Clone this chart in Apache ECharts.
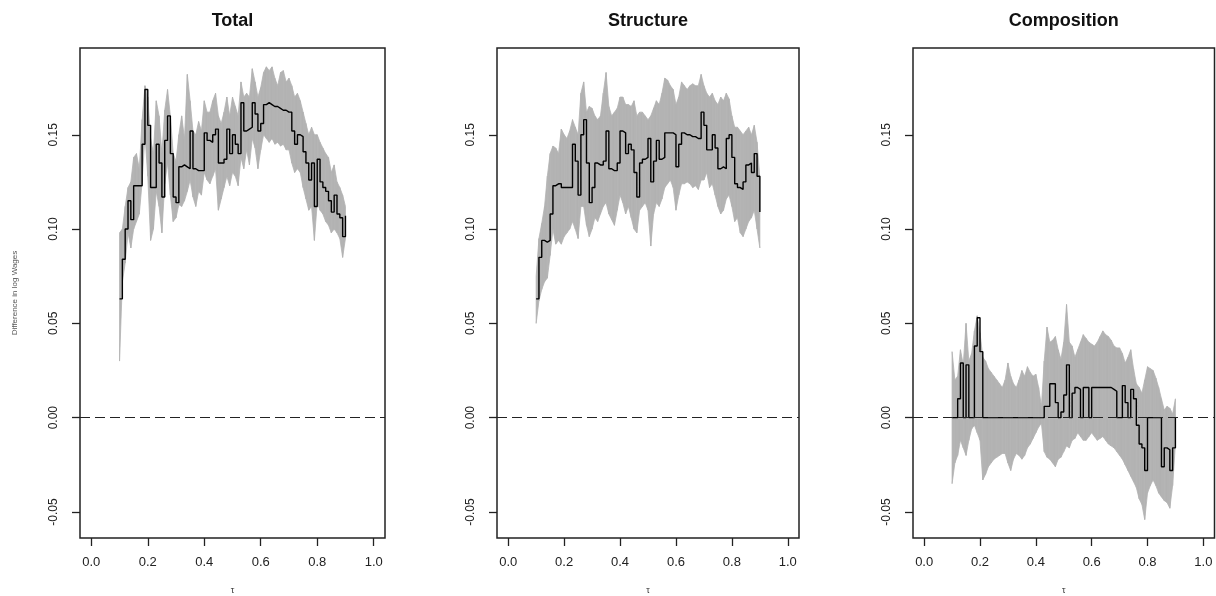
<!DOCTYPE html>
<html><head><meta charset="utf-8">
<script src="https://cdn.jsdelivr.net/npm/echarts@6/dist/echarts.min.js"></script>
<style>html,body{margin:0;padding:0;background:#fff}#c{width:1216px;height:596px}</style>
</head><body><div id="c"></div>
<script>
const TAU = [0.10,0.11,0.12,0.13,0.14,0.15,0.16,0.17,0.18,0.19,
0.20,0.21,0.22,0.23,0.24,0.25,0.26,0.27,0.28,0.29,
0.30,0.31,0.32,0.33,0.34,0.35,0.36,0.37,0.38,0.39,
0.40,0.41,0.42,0.43,0.44,0.45,0.46,0.47,0.48,0.49,
0.50,0.51,0.52,0.53,0.54,0.55,0.56,0.57,0.58,0.59,
0.60,0.61,0.62,0.63,0.64,0.65,0.66,0.67,0.68,0.69,
0.70,0.71,0.72,0.73,0.74,0.75,0.76,0.77,0.78,0.79,
0.80,0.81,0.82,0.83,0.84,0.85,0.86,0.87,0.88,0.89,
0.90];

const TOTAL_MID = [0.063,0.084,0.100,0.115,0.105,0.123,0.123,0.123,0.145,0.174,
0.155,0.122,0.122,0.145,0.135,0.117,0.147,0.160,0.140,0.117,
0.114,0.133,0.134,0.133,0.132,0.152,0.132,0.131,0.131,0.131,
0.151,0.147,0.146,0.150,0.153,0.135,0.135,0.137,0.153,0.140,
0.150,0.145,0.140,0.167,0.152,0.153,0.154,0.167,0.161,0.152,
0.156,0.166,0.167,0.166,0.165,0.165,0.164,0.163,0.163,0.162,
0.162,0.152,0.145,0.150,0.149,0.141,0.135,0.126,0.135,0.112,
0.137,0.125,0.122,0.120,0.115,0.109,0.118,0.108,0.106,0.096,
0.107];
const TOTAL_HI = [0.098,0.100,0.112,0.122,0.125,0.138,0.140,0.132,0.158,0.176,
0.170,0.148,0.140,0.168,0.160,0.140,0.163,0.174,0.160,0.140,
0.136,0.150,0.160,0.148,0.182,0.168,0.152,0.150,0.157,0.152,
0.168,0.162,0.162,0.168,0.172,0.160,0.156,0.162,0.170,0.160,
0.170,0.165,0.160,0.178,0.170,0.172,0.170,0.185,0.178,0.170,
0.175,0.183,0.186,0.184,0.186,0.180,0.176,0.183,0.184,0.178,
0.180,0.176,0.170,0.172,0.168,0.162,0.156,0.150,0.154,0.150,
0.150,0.146,0.143,0.140,0.138,0.130,0.134,0.125,0.122,0.118,
0.112];
const TOTAL_LO = [0.030,0.072,0.082,0.098,0.090,0.100,0.104,0.108,0.125,0.150,
0.128,0.094,0.100,0.120,0.112,0.098,0.124,0.135,0.118,0.104,
0.106,0.113,0.112,0.115,0.120,0.126,0.117,0.112,0.120,0.118,
0.130,0.126,0.124,0.128,0.132,0.110,0.116,0.122,0.128,0.123,
0.130,0.128,0.123,0.138,0.132,0.142,0.134,0.148,0.143,0.132,
0.142,0.150,0.148,0.146,0.148,0.145,0.146,0.144,0.145,0.142,
0.142,0.135,0.130,0.132,0.130,0.122,0.116,0.110,0.112,0.094,
0.114,0.110,0.108,0.104,0.102,0.098,0.100,0.098,0.095,0.085,
0.095];

const STRUCT_MID = [0.063,0.085,0.094,0.093,0.094,0.108,0.123,0.124,0.124,0.122,
0.122,0.122,0.122,0.145,0.136,0.118,0.150,0.158,0.135,0.114,
0.122,0.135,0.134,0.134,0.136,0.152,0.132,0.131,0.131,0.135,
0.152,0.151,0.140,0.145,0.142,0.130,0.117,0.135,0.137,0.138,
0.148,0.125,0.136,0.147,0.137,0.138,0.151,0.151,0.151,0.150,
0.133,0.145,0.151,0.150,0.150,0.149,0.149,0.148,0.148,0.162,
0.155,0.142,0.142,0.150,0.143,0.132,0.133,0.132,0.148,0.150,
0.138,0.124,0.122,0.121,0.125,0.134,0.135,0.130,0.140,0.128,
0.109];
const STRUCT_HI = [0.075,0.095,0.103,0.112,0.128,0.140,0.144,0.143,0.140,0.153,
0.150,0.148,0.152,0.158,0.154,0.150,0.172,0.178,0.162,0.165,
0.164,0.160,0.158,0.160,0.172,0.183,0.165,0.160,0.162,0.164,
0.170,0.170,0.166,0.166,0.165,0.168,0.160,0.162,0.162,0.160,
0.158,0.160,0.164,0.168,0.166,0.172,0.180,0.179,0.176,0.174,
0.166,0.170,0.178,0.176,0.174,0.176,0.177,0.176,0.176,0.182,
0.176,0.172,0.170,0.172,0.168,0.166,0.170,0.168,0.172,0.169,
0.160,0.154,0.154,0.152,0.150,0.152,0.154,0.150,0.155,0.146,
0.127];
const STRUCT_LO = [0.050,0.062,0.068,0.072,0.074,0.086,0.100,0.092,0.094,0.092,
0.096,0.098,0.100,0.104,0.100,0.095,0.112,0.112,0.102,0.096,
0.100,0.106,0.104,0.108,0.112,0.114,0.108,0.105,0.102,0.110,
0.118,0.114,0.108,0.112,0.106,0.100,0.098,0.110,0.112,0.114,
0.110,0.091,0.108,0.114,0.112,0.116,0.122,0.124,0.126,0.122,
0.110,0.118,0.124,0.124,0.125,0.124,0.122,0.123,0.121,0.126,
0.126,0.130,0.122,0.124,0.118,0.112,0.108,0.110,0.116,0.118,
0.112,0.104,0.106,0.098,0.096,0.100,0.104,0.106,0.110,0.100,
0.090];

const COMP_MID = [0.000,0.000,0.010,0.029,0.000,0.028,0.000,0.000,0.038,0.053,
0.035,0.000,0.000,0.000,0.000,0.000,0.000,0.000,0.000,0.000,
0.000,0.000,0.000,0.000,0.000,0.000,0.000,0.000,0.000,0.000,
0.000,0.000,0.000,0.006,0.006,0.018,0.018,0.008,0.000,0.003,
0.012,0.028,0.000,0.013,0.016,0.015,0.000,0.016,0.016,0.000,
0.016,0.016,0.016,0.016,0.016,0.016,0.016,0.015,0.014,0.000,
0.000,0.017,0.008,0.000,0.015,0.010,-0.004,-0.014,-0.016,-0.028,
0.000,0.000,0.000,0.000,0.000,-0.026,-0.016,-0.017,-0.028,-0.016,
0.000];
const COMP_HI = [0.035,0.020,0.022,0.036,0.028,0.050,0.030,0.034,0.046,0.054,
0.045,0.032,0.030,0.026,0.024,0.022,0.020,0.018,0.016,0.020,
0.029,0.022,0.018,0.016,0.020,0.025,0.022,0.027,0.024,0.022,
0.023,0.016,0.006,0.030,0.048,0.040,0.041,0.043,0.036,0.031,
0.040,0.060,0.040,0.038,0.032,0.036,0.040,0.044,0.042,0.040,
0.039,0.038,0.040,0.043,0.046,0.044,0.043,0.041,0.038,0.037,
0.037,0.034,0.029,0.032,0.036,0.026,0.018,0.016,0.013,0.020,
0.027,0.026,0.025,0.021,0.016,0.010,0.004,0.006,0.005,0.002,
0.010];
const COMP_LO = [-0.035,-0.024,-0.020,-0.012,-0.016,-0.020,-0.012,-0.006,-0.004,-0.008,
-0.012,-0.033,-0.030,-0.026,-0.024,-0.022,-0.021,-0.020,-0.019,-0.019,
-0.024,-0.028,-0.022,-0.019,-0.020,-0.022,-0.020,-0.016,-0.014,-0.011,
-0.008,-0.005,-0.003,-0.018,-0.021,-0.022,-0.024,-0.026,-0.022,-0.021,
-0.018,-0.015,-0.016,-0.012,-0.011,-0.008,-0.010,-0.012,-0.012,-0.010,
-0.008,-0.010,-0.012,-0.011,-0.010,-0.012,-0.014,-0.015,-0.016,-0.018,
-0.020,-0.022,-0.025,-0.028,-0.031,-0.034,-0.037,-0.043,-0.046,-0.054,
-0.040,-0.036,-0.033,-0.036,-0.040,-0.042,-0.044,-0.045,-0.048,-0.036,
-0.014];

const PANEL_TITLES = ['Total', 'Structure', 'Composition'];
const X_TICKS = [0, 0.2, 0.4, 0.6, 0.8, 1.0];
const Y_TICKS = [-0.05, 0, 0.05, 0.10, 0.15];
const Y_LABEL = 'Difference in log Wages';
const X_LABEL = 'τ';

const FONT = "'Liberation Sans', Arial, sans-serif";
const BAND_COLOR = '#b3b3b3';
const panels = [
  {mid: TOTAL_MID, lo: TOTAL_LO, hi: TOTAL_HI},
  {mid: STRUCT_MID, lo: STRUCT_LO, hi: STRUCT_HI},
  {mid: COMP_MID, lo: COMP_LO, hi: COMP_HI}
];
const gridBoxes = [
  {left: 80, width: 305},
  {left: 497, width: 302},
  {left: 913, width: 301.5}
];
const TOP = 48, HEIGHT = 490;

// band segments: quad between consecutive quantiles
function bandSegments(p) {
  const out = [];
  for (let k = 0; k < TAU.length - 1; k++) {
    out.push([TAU[k], p.lo[k], p.hi[k], TAU[k + 1], p.lo[k + 1], p.hi[k + 1]]);
  }
  return out;
}
function renderBand(params, api) {
  const a = api.coord([api.value(0), api.value(1)]);
  const b = api.coord([api.value(0), api.value(2)]);
  const c = api.coord([api.value(3), api.value(5)]);
  const d = api.coord([api.value(3), api.value(4)]);
  return {type: 'polygon', shape: {points: [a, b, c, d]},
    style: {fill: BAND_COLOR, stroke: BAND_COLOR, lineWidth: 0.8}};
}

const grid = [], xAxis = [], yAxis = [], series = [], graphic = [];
gridBoxes.forEach((g, i) => {
  grid.push({left: g.left, top: TOP, width: g.width, height: HEIGHT, show: true,
    outerBoundsMode: 'none', containLabel: false,
    borderColor: '#222', borderWidth: 1.5, backgroundColor: 'transparent'});
  graphic.push({type: 'text', x: g.left + g.width / 2, y: 21,
    style: {text: PANEL_TITLES[i], font: 'bold 18px ' + FONT, fill: '#111',
      textAlign: 'center', textVerticalAlign: 'middle'}});
  xAxis.push({type: 'value', gridIndex: i, min: -0.04, max: 1.04,
    name: X_LABEL, nameLocation: 'middle', nameGap: 48,
    nameTextStyle: {fontSize: 9, color: '#333', fontFamily: FONT},
    axisLine: {show: false, onZero: false}, splitLine: {show: false},
    axisTick: {show: true, length: 8, customValues: X_TICKS, lineStyle: {color: '#222', width: 1.3}},
    axisLabel: {customValues: X_TICKS, formatter: v => v.toFixed(1), margin: 18,
      fontSize: 13, color: '#222', fontFamily: FONT}});
  yAxis.push({type: 'value', gridIndex: i, min: -0.0638, max: 0.196,
    name: i === 0 ? Y_LABEL : '', nameLocation: 'middle', nameGap: 61,
    nameTextStyle: {fontSize: 8, color: '#555', fontFamily: FONT},
    axisLine: {show: false, onZero: false}, splitLine: {show: false},
    axisTick: {show: true, length: 8, customValues: Y_TICKS, lineStyle: {color: '#222', width: 1.3}},
    axisLabel: {customValues: Y_TICKS, formatter: v => v.toFixed(2), rotate: 90, margin: 20,
      fontSize: 12, color: '#222', fontFamily: FONT}});
  const p = panels[i];
  series.push({type: 'custom', xAxisIndex: i, yAxisIndex: i, silent: true, z: 1,
    encode: {x: [0, 3], y: [1, 2, 4, 5]},
    data: bandSegments(p), renderItem: renderBand, clip: true});
  series.push({type: 'line', xAxisIndex: i, yAxisIndex: i, step: 'end',
    data: TAU.map((t, k) => [t, p.mid[k]]), symbol: 'none', silent: true,
    lineStyle: {color: '#000', width: 1.4}, z: 4,
    markLine: {silent: true, symbol: ['none', 'none'], label: {show: false},
      lineStyle: {type: [10, 5], color: '#222', width: 1.2}, data: [{yAxis: 0}]}});
});

const chart = echarts.init(document.getElementById('c'), null, {renderer: 'canvas'});
chart.setOption({animation: false, backgroundColor: '#fff', grid, xAxis, yAxis, series, graphic});
</script></body></html>
